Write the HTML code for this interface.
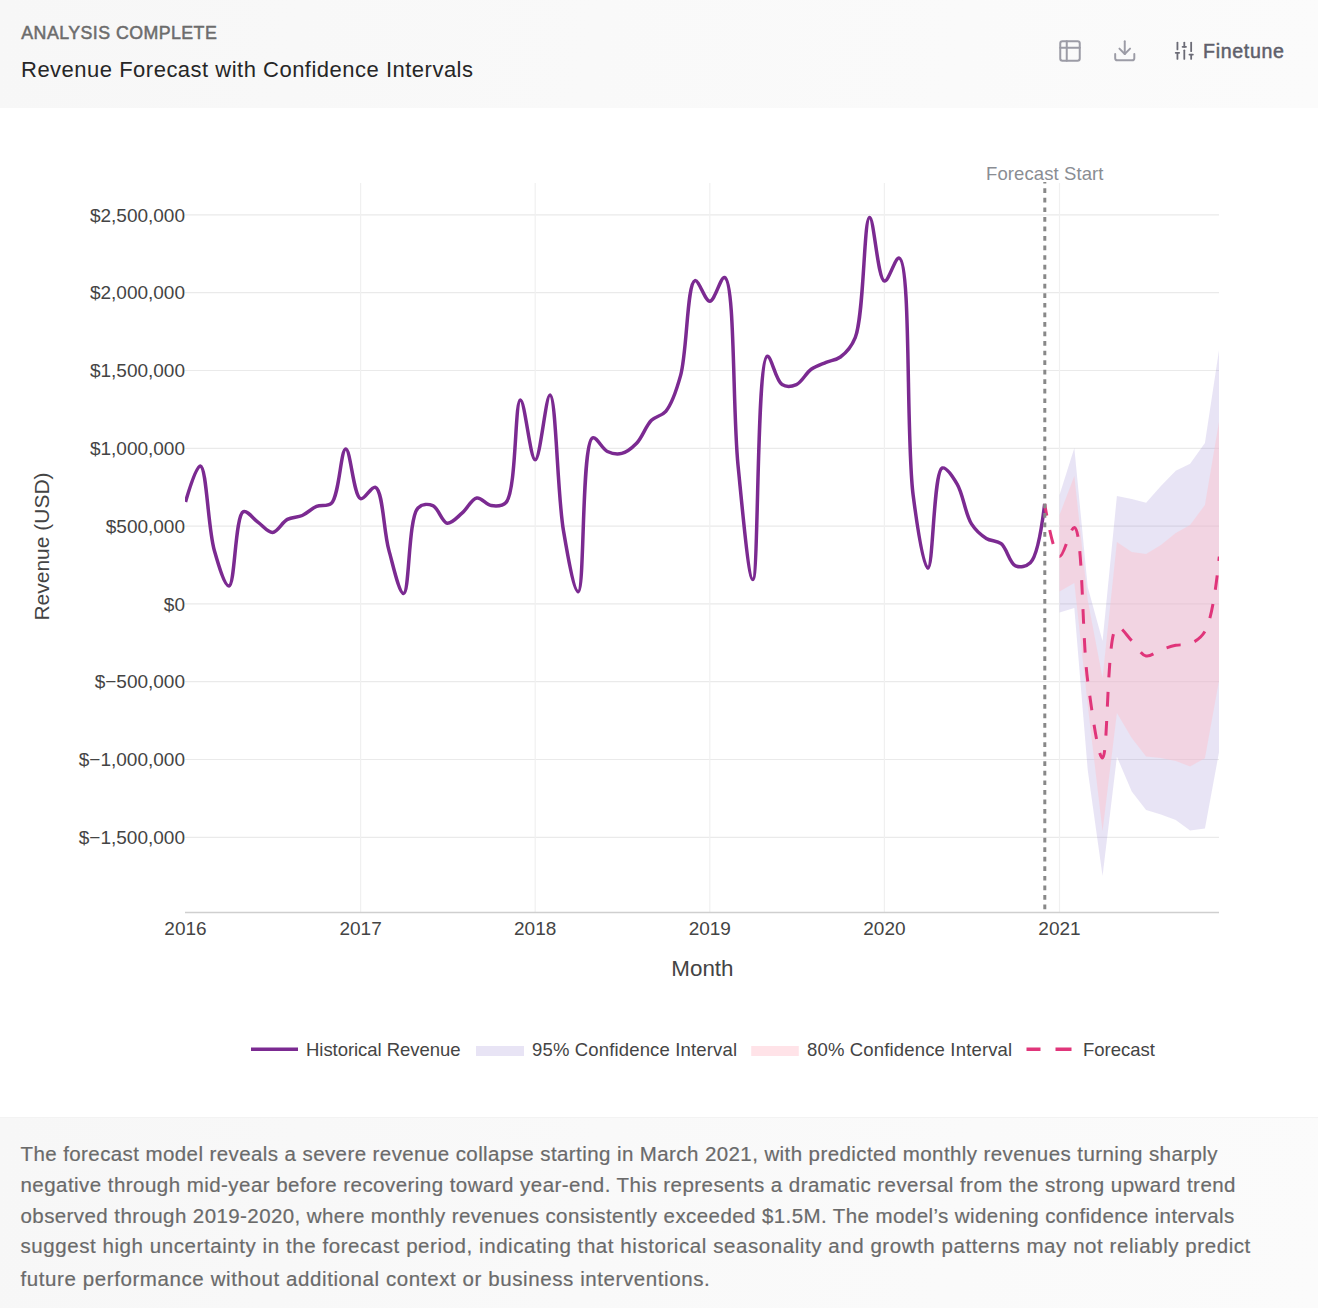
<!DOCTYPE html>
<html><head><meta charset="utf-8">
<style>
html,body{margin:0;padding:0;}
body{width:1318px;height:1308px;position:relative;overflow:hidden;background:#fff;font-family:"Liberation Sans",sans-serif;}
.hdr{position:absolute;left:0;top:0;width:1318px;height:108px;background:linear-gradient(100deg,#f7f7f7 0%,#f9f9f9 45%,#fbfbfb 100%);}
.t1{position:absolute;left:21px;top:22px;font-size:18px;font-weight:bold;color:#707070;letter-spacing:0.2px;white-space:nowrap;line-height:20px;}
.t2{position:absolute;left:21px;top:57px;font-size:22px;color:#262626;white-space:nowrap;line-height:24px;}
.fin{position:absolute;left:1203px;top:39px;font-size:19.5px;font-weight:bold;color:#626270;white-space:nowrap;line-height:22px;}
.ftr{position:absolute;left:0;top:1117px;width:1318px;height:191px;background:linear-gradient(100deg,#f7f7f7 0%,#f9f9f9 45%,#fbfbfb 100%);border-top:1px solid #f3f3f3;}
.ln{position:absolute;left:21px;font-size:20px;color:#6a6a6a;white-space:nowrap;line-height:24px;}
svg text{font-family:"Liberation Sans",sans-serif;}
</style></head><body>
<div class="hdr"></div>
<svg style="position:absolute;left:0;top:0" width="1318" height="108">
 <text x="21.3" y="38.6" font-size="17.8" fill="#6c6c6c" stroke="#6c6c6c" stroke-width="0.5" textLength="195.5" lengthAdjust="spacing">ANALYSIS COMPLETE</text>
 <text x="21" y="76.6" font-size="22" fill="#262626" textLength="452" lengthAdjust="spacing">Revenue Forecast with Confidence Intervals</text>
 <text x="1203" y="57.6" font-size="19.6" fill="#5f5f6b" stroke="#5f5f6b" stroke-width="0.5" textLength="81" lengthAdjust="spacing">Finetune</text>
</svg>
<svg style="position:absolute;left:1057px;top:37.7px" width="26" height="26" viewBox="0 0 24 24" fill="none" stroke="#9c9ca6" stroke-width="1.85" stroke-linecap="round" stroke-linejoin="round"><rect width="18" height="18" x="3" y="3" rx="2"/><path d="M3 9h18"/><path d="M9 3v18"/></svg>
<svg style="position:absolute;left:1112px;top:37.7px" width="25.5" height="25.5" viewBox="0 0 24 24" fill="none" stroke="#9c9ca6" stroke-width="1.85" stroke-linecap="round" stroke-linejoin="round"><path d="M21 15v4a2 2 0 0 1-2 2H5a2 2 0 0 1-2-2v-4"/><polyline points="7 10 12 15 17 10"/><line x1="12" x2="12" y1="15" y2="3"/></svg>
<svg style="position:absolute;left:1174.1px;top:39.9px" width="20.6" height="20.6" viewBox="0 0 24 24" fill="none" stroke="#6b6b76" stroke-width="2.1" stroke-linecap="round" stroke-linejoin="round"><line x1="4" x2="4" y1="22" y2="15"/><line x1="4" x2="4" y1="11" y2="3"/><line x1="12" x2="12" y1="22" y2="12"/><line x1="12" x2="12" y1="8" y2="3"/><line x1="20" x2="20" y1="22" y2="17"/><line x1="20" x2="20" y1="13" y2="3"/><line x1="2" x2="6" y1="15" y2="15"/><line x1="10" x2="14" y1="8" y2="8"/><line x1="18" x2="22" y1="17" y2="17"/></svg>

<svg style="position:absolute;left:0;top:0" width="1318" height="1308">
 <defs><clipPath id="pc"><rect x="185" y="183" width="1034" height="729"/></clipPath></defs>
 <g stroke="#eaeaea" stroke-width="1.2" fill="none">
  <line x1="185" y1="837.30" x2="1219" y2="837.30"/>
  <line x1="185" y1="759.50" x2="1219" y2="759.50"/>
  <line x1="185" y1="681.70" x2="1219" y2="681.70"/>
  <line x1="185" y1="603.90" x2="1219" y2="603.90"/>
  <line x1="185" y1="526.10" x2="1219" y2="526.10"/>
  <line x1="185" y1="448.30" x2="1219" y2="448.30"/>
  <line x1="185" y1="370.50" x2="1219" y2="370.50"/>
  <line x1="185" y1="292.70" x2="1219" y2="292.70"/>
  <line x1="185" y1="214.90" x2="1219" y2="214.90"/>
  <line x1="360.60" y1="183" x2="360.60" y2="912" stroke="#f0f0f0"/>
  <line x1="535.20" y1="183" x2="535.20" y2="912" stroke="#f0f0f0"/>
  <line x1="709.80" y1="183" x2="709.80" y2="912" stroke="#f0f0f0"/>
  <line x1="884.40" y1="183" x2="884.40" y2="912" stroke="#f0f0f0"/>
  <line x1="1059.50" y1="183" x2="1059.50" y2="912" stroke="#f0f0f0"/>
 </g>
 <g clip-path="url(#pc)">
  <path d="M1059.5,495L1074.33,448L1087.72,587L1102.55,641L1116.91,495.9L1131.74,499L1146.09,502.8L1160.92,486L1175.75,470.7L1190.1,463.8L1204.93,443.1L1219.28,348.3L1219.28,750.8L1204.93,828.5L1190.1,830.6L1175.75,819.9L1160.92,814.6L1146.09,810L1131.74,791.6L1116.91,756.7L1102.55,876L1087.72,770L1074.33,608L1059.5,612.5Z" fill="rgba(140,120,205,0.2)" stroke="none"/>
  <path d="M1059.5,515L1074.33,476L1087.72,600L1102.55,678L1116.91,542L1131.74,552L1146.09,554L1160.92,545L1175.75,533L1190.1,525L1204.93,505L1219.28,420L1219.28,679.3L1204.93,758.2L1190.1,766.4L1175.75,761L1160.92,758L1146.09,756.5L1131.74,738L1116.91,713L1102.55,831L1087.72,705L1074.33,583L1059.5,591.5Z" fill="rgba(255,192,203,0.45)" stroke="none"/>
  <path d="M185.5,502Q196.12,465.42 200.33,465.9C206.55,466.61 207.98,528.02 214.2,549.9C218.41,564.7 224.72,586.33 229.03,585.9C235.04,585.3 235.07,514.99 243.38,511.7C247.47,510.08 253.3,518.91 258.21,522.4C263.02,525.81 267.84,532.66 272.57,532.4C277.58,532.12 282.1,522.21 287.39,519.4C292.06,516.92 297.48,517.57 302.22,515.5C307.22,513.32 311.56,508.44 316.58,506.4C321.31,504.48 327.3,507.19 331.41,503.3C339.31,495.8 340.79,449.08 345.76,449C350.53,448.92 353.59,496.44 360.59,498.7C364.79,500.06 371.36,485.81 375.42,487.3C382.92,490.06 383.61,531.05 388.81,549.9C393.22,565.89 399.31,593.85 403.64,593.5C409.58,593.02 408.19,517.58 417.99,507.9C422.07,503.87 428.35,503.88 432.82,505.6C438.32,507.71 441.97,522.43 447.17,523.2C451.79,523.88 457.25,517.16 462,513.2C467.18,508.88 471.61,498.82 476.83,498C481.4,497.28 486.23,504.9 491.18,505.6C495.97,506.28 501.93,506.86 506.01,502.5C516.68,491.09 514.67,400.3 520.37,400C524.76,399.77 530.34,459.84 535.2,459.8C540.24,459.75 545.83,394.73 550.03,395C556.02,395.38 557.3,494.24 563.42,530.4C567.59,555.03 574.04,592.1 578.25,591.8C584.83,591.32 581.28,442.14 592.6,437.8C596.69,436.23 602.11,449 607.43,451.5C611.94,453.62 617.16,454.5 621.78,453.4C626.93,452.18 632.09,447.94 636.61,443.3C642.2,437.57 645.86,425.81 651.44,420.3C655.83,415.96 661.61,416.25 665.79,411.3C672.12,403.8 676.42,390.54 680.62,375.4C687.23,351.62 687.01,282.52 694.97,280.6C699.07,279.61 704.97,301.36 709.8,301.2C714.87,301.04 720.59,276.49 724.63,277.5C735.14,280.12 732.52,410.59 738.03,465.4C742.33,508.25 748.55,579.74 752.86,579.6C758.87,579.4 756.4,358.59 767.21,356.3C771.29,355.43 775.78,380.81 782.04,384.6C786.23,387.14 791.93,386.49 796.39,384.6C801.82,382.3 805.91,373.08 811.22,369.3C815.88,365.99 821.11,364.48 826.05,362.4C830.84,360.39 836,360.27 840.4,357C845.96,352.87 851.15,347.64 855.23,337.6C864.3,315.27 863.67,217.93 869.58,217.6C873.92,217.36 877.83,279.85 884.41,281C888.67,281.74 895.15,257.02 899.24,258.1C911.3,261.28 905.81,438.76 913.12,495C917.21,526.55 923.39,568.33 927.95,568.2C933.25,568.05 933.52,470.72 942.3,468C946.38,466.73 952.81,476.99 957.13,484.1C963.13,493.99 965.36,514.38 971.48,523.9C975.76,530.57 980.97,535.07 986.31,538.4C990.96,541.31 996.74,540.21 1001.14,543.7C1006.84,548.22 1009.71,563.49 1015.49,565.9C1019.86,567.73 1026.23,566.76 1030.32,562.8Q1038.5,554.89 1044.67,504" fill="none" stroke="#7b2a91" stroke-width="3.5" stroke-linejoin="round" stroke-linecap="butt"/>
  <path d="M1044.67,504Q1053.74,555.93 1059.5,556.5C1063.95,556.94 1070.3,526.71 1074.33,527.5C1083.1,529.21 1081.82,638.7 1087.72,681C1091.94,711.18 1098.16,758.18 1102.55,758C1108.26,757.77 1106.48,630.9 1116.91,627C1120.99,625.47 1126.92,635.92 1131.74,640.7C1136.65,645.58 1140.84,654.88 1146.09,656C1150.68,656.98 1155.93,651.59 1160.92,649.8C1165.82,648.04 1170.8,646.32 1175.75,645.3C1180.52,644.32 1185.54,645.62 1190.1,643.7C1195.35,641.48 1200.83,638.39 1204.93,631.5Q1213.09,617.76 1219.28,556.6" fill="none" stroke="#e0357a" stroke-width="3" stroke-dasharray="14.5 14.5" stroke-dashoffset="2.7"/>
 </g>
 <line x1="185" y1="912.5" x2="1219" y2="912.5" stroke="#cfcfcf" stroke-width="1.5"/>
 <line x1="1044.8" y1="182" x2="1044.8" y2="912" stroke="#888" stroke-width="3" stroke-dasharray="4.7 4.85" stroke-dashoffset="3.25"/>
 <text x="986" y="179.7" font-size="18.5" fill="#8a8d93" textLength="117.5" lengthAdjust="spacing">Forecast Start</text>
 <g font-size="19" fill="#444" text-anchor="end">
  <text x="185" y="221.50">$2,500,000</text>
  <text x="185" y="299.30">$2,000,000</text>
  <text x="185" y="377.10">$1,500,000</text>
  <text x="185" y="454.90">$1,000,000</text>
  <text x="185" y="532.70">$500,000</text>
  <text x="185" y="610.50">$0</text>
  <text x="185" y="688.30">$−500,000</text>
  <text x="185" y="766.10">$−1,000,000</text>
  <text x="185" y="843.90">$−1,500,000</text>
 </g>
 <g font-size="19" fill="#444" text-anchor="middle">
  <text x="185.50" y="934.9">2016</text>
  <text x="360.60" y="934.9">2017</text>
  <text x="535.20" y="934.9">2018</text>
  <text x="709.80" y="934.9">2019</text>
  <text x="884.40" y="934.9">2020</text>
  <text x="1059.50" y="934.9">2021</text>
 </g>
 <text x="702.4" y="976.3" font-size="22.4" fill="#444" text-anchor="middle">Month</text>
 <text transform="translate(49,546.5) rotate(-90)" font-size="21" fill="#444" text-anchor="middle">Revenue (USD)</text>
 <g font-size="18.5" fill="#444">
  <line x1="251" y1="1049.3" x2="298" y2="1049.3" stroke="#7b2a91" stroke-width="3.5"/>
  <text x="306" y="1055.5" textLength="154.5" lengthAdjust="spacing">Historical Revenue</text>
  <rect x="476" y="1046" width="48" height="10" fill="rgba(140,120,205,0.2)"/>
  <text x="532" y="1055.5" textLength="205" lengthAdjust="spacing">95% Confidence Interval</text>
  <rect x="751.2" y="1046" width="47.6" height="10" fill="rgba(255,192,203,0.45)"/>
  <text x="807" y="1055.5" textLength="205.2" lengthAdjust="spacing">80% Confidence Interval</text>
  <path d="M1026.5,1049.2H1040.5M1055.5,1049.2H1071.5" stroke="#e0357a" stroke-width="3.6"/>
  <text x="1083" y="1055.5" textLength="72" lengthAdjust="spacing">Forecast</text>
 </g>
</svg>

<div class="ftr"></div>
<svg style="position:absolute;left:0;top:0" width="1318" height="1308">
 <text x="20.5" y="1160.9" font-size="20.5" fill="#6a6a6a" stroke="#6a6a6a" stroke-width="0.2" textLength="1197" lengthAdjust="spacing">The forecast model reveals a severe revenue collapse starting in March 2021, with predicted monthly revenues turning sharply</text>
 <text x="20.5" y="1191.9" font-size="20.5" fill="#6a6a6a" stroke="#6a6a6a" stroke-width="0.2" textLength="1215" lengthAdjust="spacing">negative through mid-year before recovering toward year-end. This represents a dramatic reversal from the strong upward trend</text>
 <text x="20.5" y="1222.5" font-size="20.5" fill="#6a6a6a" stroke="#6a6a6a" stroke-width="0.2" textLength="1213.8" lengthAdjust="spacing">observed through 2019-2020, where monthly revenues consistently exceeded $1.5M. The model’s widening confidence intervals</text>
 <text x="20.5" y="1253.4" font-size="20.5" fill="#6a6a6a" stroke="#6a6a6a" stroke-width="0.2" textLength="1229.8" lengthAdjust="spacing">suggest high uncertainty in the forecast period, indicating that historical seasonality and growth patterns may not reliably predict</text>
 <text x="20.5" y="1285.6" font-size="20.5" fill="#6a6a6a" stroke="#6a6a6a" stroke-width="0.2" textLength="689.3" lengthAdjust="spacing">future performance without additional context or business interventions.</text>
</svg>
</body></html>
